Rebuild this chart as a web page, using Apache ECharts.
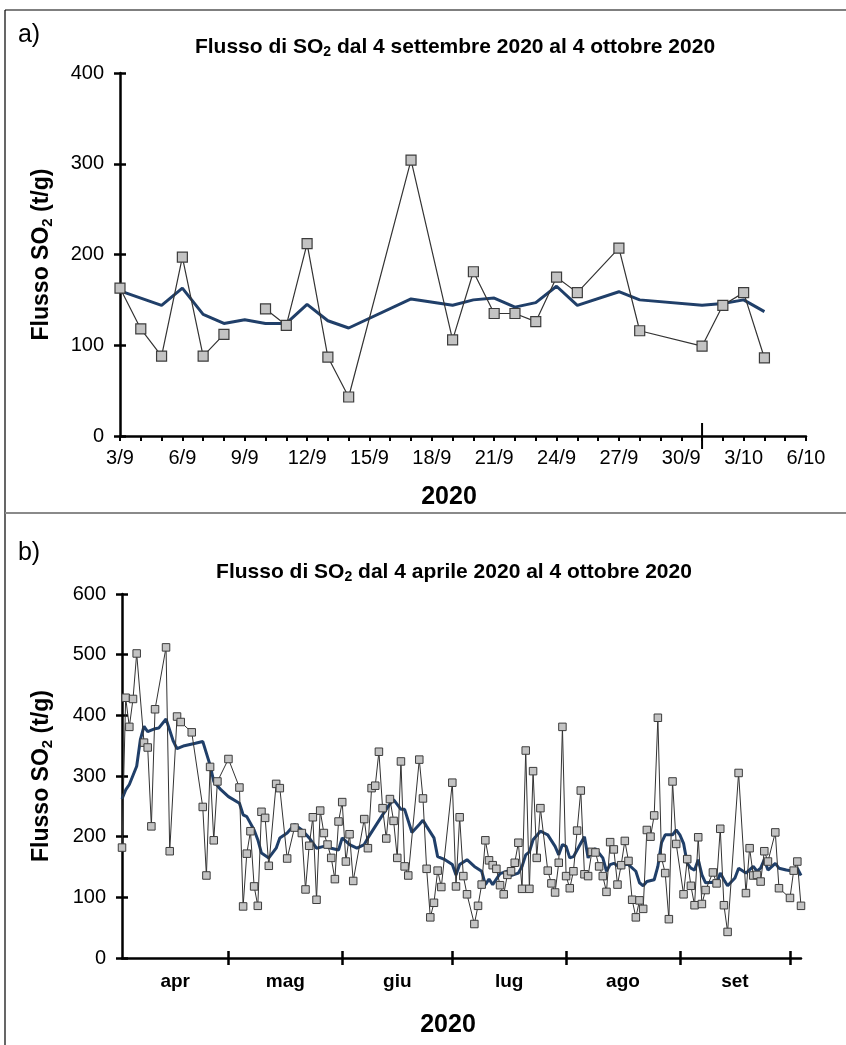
<!DOCTYPE html>
<html><head><meta charset="utf-8">
<script src="https://cdn.jsdelivr.net/npm/echarts@6/dist/echarts.min.js"></script>
<style>html,body{margin:0;padding:0;background:#fff}#c{width:846px;height:1045px}</style>
</head><body><div id="c"></div><script>
const FONT = '"Liberation Sans", Arial, sans-serif';

// ---------- Panel a: 4 Sep - 4 Oct 2020 (x = days since 3/9) ----------
const daysA = [0,1,2,3,4,5,6,7,8,9,10,11,14,16,17,18,19,20,21,22,24,25,28,29,30,31];
const fluxA = [163,118,88,197,88,112,null,140,122,212,87,43,304,106,181,135,135,126,175,158,207,116,99,144,158,86];
const avgA  = [160,152,144,163,134,124,128,124,124,145,127,119,151,144,150,152,142,147,165,144,159,150,144,146,150,137];
const tickLabelsA = ['3/9','6/9','9/9','12/9','15/9','18/9','21/9','24/9','27/9','30/9','3/10','6/10'];
const markDayA = 28; // 1/10

// ---------- Panel b: Apr - Oct 2020 (x = days since 2 Apr) ----------
const daysB = [0,1,2,3,4,6,7,8,9,12,13,15,16,19,22,23,24,25,26,29,32,33,34,35,36,37,38,39,40,42,43,45,47,49,50,51,52,53,54,55,56,57,58,59,60,61,62,63,66,67,68,69,70,71,72,73,74,75,76,77,78,81,82,83,84,85,86,87,90,91,92,93,94,96,97,98,99,100,101,102,103,104,105,106,107,108,109,110,111,112,113,114,116,117,118,119,120,121,122,123,124,125,126,127,128,129,130,131,132,133,134,135,136,137,138,139,140,141,142,143,144,145,146,147,148,149,150,151,153,154,155,156,157,158,159,161,162,163,164,165,168,170,171,172,173,174,175,176,178,179,182,183,184,185];
const fluxB = [182,429,381,427,502,355,347,217,410,512,176,398,389,372,249,136,315,194,291,328,281,85,172,209,118,86,241,231,152,287,280,164,215,206,113,185,232,96,243,206,187,165,130,225,257,159,204,127,229,181,280,284,340,247,197,262,226,165,324,151,136,327,263,147,67,91,144,117,289,118,232,135,105,56,86,121,194,161,153,147,120,105,137,143,157,190,114,342,114,308,165,247,144,123,108,157,381,135,115,143,210,276,138,135,175,174,151,135,109,191,179,121,153,193,160,96,67,95,81,211,200,235,396,165,140,64,291,188,105,163,119,87,199,89,112,141,123,213,87,43,305,107,181,136,137,126,176,159,207,115,99,144,159,86];
const avgDaysB = [0,1,2,4,5,6,7,9,10,12,14,15,17,20,22,24,25,27,29,32,33,34,36,37,38,40,42,43,45,47,49,51,53,55,57,59,60,62,64,66,67,69,71,73,74,76,77,79,81,82,83,85,86,88,90,91,92,94,96,98,99,100,101,103,105,106,108,109,110,111,112,114,115,116,118,119,120,121,122,123,125,126,127,128,129,131,132,133,134,136,137,138,140,141,142,143,145,146,147,148,149,150,151,152,153,154,155,156,157,158,159,161,162,163,164,165,167,168,170,172,173,174,175,176,178,179,181,183,184,185];
const avgB = [262,277,286,316,360,382,373,378,379,394,357,345,350,354,357,318,291,277,266,255,236,233,211,195,173,165,181,198,206,220,211,198,181,184,181,178,198,187,181,187,198,217,236,254,261,245,245,207,220,227,217,198,167,162,154,137,154,162,151,143,121,130,121,139,143,136,140,151,170,175,195,209,206,203,184,170,187,184,165,167,189,200,165,176,180,165,143,154,156,148,154,154,143,124,119,126,129,151,190,203,203,203,211,203,189,156,148,145,162,137,124,125,122,140,129,119,132,148,140,151,143,148,162,145,156,148,145,143,148,136];
const monthLabelsB = ['apr','mag','giu','lug','ago','set'];
const monthStartsB = [0,29,60,90,121,152,182]; // 2 Apr, 1 May, 1 Jun, 1 Jul, 1 Aug, 1 Sep, 1 Oct
const maxDayB = 185;

const zip = (xs, ys) => xs.map((x, i) => [x, ys[i]]);
const monthMidsB = monthLabelsB.map((_, i) => (monthStartsB[i] + monthStartsB[i + 1]) / 2);

const BLUE = '#203f69';
const axisLine = {show: true, lineStyle: {color: '#000', width: 2.5}};
const tickStyle = {color: '#000', width: 2.5};
const subRich = {s: {fontSize: 14, fontWeight: 'bold', fontFamily: FONT, padding: [11, 0, 0, 0]}};
const subRichName = {s: {fontSize: 15, fontWeight: 'bold', fontFamily: FONT, padding: [12, 0, 0, 0]}};

const chart = echarts.init(document.getElementById('c'), null, {renderer: 'canvas'});
chart.setOption({
  animation: false,
  backgroundColor: '#fff',
  grid: [
    {left: 120, top: 73, width: 686, height: 363},
    {left: 122, top: 594, width: 679, height: 364}
  ],
  xAxis: [
    {type: 'value', gridIndex: 0, min: 0, max: 33, interval: 3, position: 'bottom',
     axisLine, splitLine: {show: false},
     axisTick: {show: true, length: 5, lineStyle: {color: '#000', width: 2}},
     minorTick: {show: true, splitNumber: 3, length: 5, lineStyle: {color: '#000', width: 2}},
     axisLabel: {margin: 12, fontSize: 20, color: '#000', fontFamily: FONT,
       formatter: v => tickLabelsA[Math.round(v / 3)]}},
    {type: 'value', gridIndex: 1, min: 0, max: maxDayB, position: 'bottom',
     axisLine, splitLine: {show: false},
     axisTick: {show: true, length: 7, lineStyle: tickStyle, customValues: monthStartsB.slice(1)},
     axisLabel: {margin: 14, fontSize: 19, fontWeight: 'bold', color: '#000', fontFamily: FONT,
       customValues: monthMidsB,
       formatter: v => monthLabelsB[monthMidsB.indexOf(v)] || ''}},
    {type: 'value', gridIndex: 1, min: 0, max: maxDayB, position: 'bottom',
     axisLine: {show: false}, splitLine: {show: false},
     axisTick: {show: true, inside: true, length: 7, lineStyle: tickStyle, customValues: monthStartsB.slice(1)},
     axisLabel: {show: false}}
  ],
  yAxis: [
    {type: 'value', gridIndex: 0, min: 0, max: 400, interval: 100, position: 'left',
     axisLine, splitLine: {show: false},
     axisTick: {show: true, length: 6, lineStyle: tickStyle},
     axisLabel: {margin: 16, fontSize: 20, color: '#000', fontFamily: FONT},
     name: 'Flusso SO{s|2} (t/g)', nameLocation: 'middle', nameGap: 65, nameRotate: 90,
     nameTextStyle: {fontSize: 23, fontWeight: 'bold', color: '#000', fontFamily: FONT, rich: subRichName}},
    {type: 'value', gridIndex: 0, min: 0, max: 400, interval: 100, position: 'left',
     axisLine: {show: false}, splitLine: {show: false},
     axisTick: {show: true, inside: true, length: 6, lineStyle: tickStyle}, axisLabel: {show: false}},
    {type: 'value', gridIndex: 1, min: 0, max: 600, interval: 100, position: 'left',
     axisLine, splitLine: {show: false},
     axisTick: {show: true, length: 6, lineStyle: tickStyle},
     axisLabel: {margin: 16, fontSize: 20, color: '#000', fontFamily: FONT},
     name: 'Flusso SO{s|2} (t/g)', nameLocation: 'middle', nameGap: 67, nameRotate: 90,
     nameTextStyle: {fontSize: 23, fontWeight: 'bold', color: '#000', fontFamily: FONT, rich: subRichName}},
    {type: 'value', gridIndex: 1, min: 0, max: 600, interval: 100, position: 'left',
     axisLine: {show: false}, splitLine: {show: false},
     axisTick: {show: true, inside: true, length: 6, lineStyle: tickStyle}, axisLabel: {show: false}}
  ],
  series: [
    {type: 'line', xAxisIndex: 0, yAxisIndex: 0, data: zip(daysA, avgA), symbol: 'none',
     lineStyle: {color: BLUE, width: 3}, z: 2},
    {type: 'line', xAxisIndex: 0, yAxisIndex: 0, data: zip(daysA, fluxA), symbol: 'rect', symbolSize: 10,
     connectNulls: false,
     lineStyle: {color: '#333', width: 1.2}, itemStyle: {color: '#c3c3c3', borderColor: '#3c3c3c', borderWidth: 1.2}, z: 3},
    {type: 'line', xAxisIndex: 1, yAxisIndex: 2, data: zip(avgDaysB, avgB), symbol: 'none',
     lineStyle: {color: BLUE, width: 3}, z: 2},
    {type: 'line', xAxisIndex: 1, yAxisIndex: 2, data: zip(daysB, fluxB), symbol: 'rect', symbolSize: 7.5,
     lineStyle: {color: '#333', width: 1}, itemStyle: {color: '#c3c3c3', borderColor: '#3c3c3c', borderWidth: 1}, z: 3}
  ]
});

const mx = chart.convertToPixel({xAxisIndex: 0}, markDayA);
const my = chart.convertToPixel({yAxisIndex: 0}, 0);
const txt = (x, y, text, size, weight, extra) => ({type: 'text', x, y, silent: true,
  style: Object.assign({text, fill: '#000', fontSize: size, fontWeight: weight, fontFamily: FONT,
    align: 'center', verticalAlign: 'middle'}, extra || {})});
chart.setOption({
  graphic: [
    {type: 'line', shape: {x1: 5, y1: 10, x2: 846, y2: 10}, style: {stroke: '#000', lineWidth: 1.2}},
    {type: 'line', shape: {x1: 5, y1: 10, x2: 5, y2: 1045}, style: {stroke: '#000', lineWidth: 1.2}},
    {type: 'line', shape: {x1: 5, y1: 513, x2: 846, y2: 513}, style: {stroke: '#8a8a8a', lineWidth: 2}},
    {type: 'line', shape: {x1: mx, y1: my - 13, x2: mx, y2: my + 13}, style: {stroke: '#000', lineWidth: 2}},
    txt(29, 35, 'a)', 25, 'normal'),
    txt(29, 553, 'b)', 25, 'normal'),
    txt(455, 47, 'Flusso di SO{s|2} dal 4 settembre 2020 al 4 ottobre 2020', 21, 'bold', {rich: subRich}),
    txt(454, 572, 'Flusso di SO{s|2} dal 4 aprile 2020 al 4 ottobre 2020', 21, 'bold', {rich: subRich}),
    txt(449, 497, '2020', 25, 'bold'),
    txt(448, 1025, '2020', 25, 'bold')
  ]
});
</script></body></html>
